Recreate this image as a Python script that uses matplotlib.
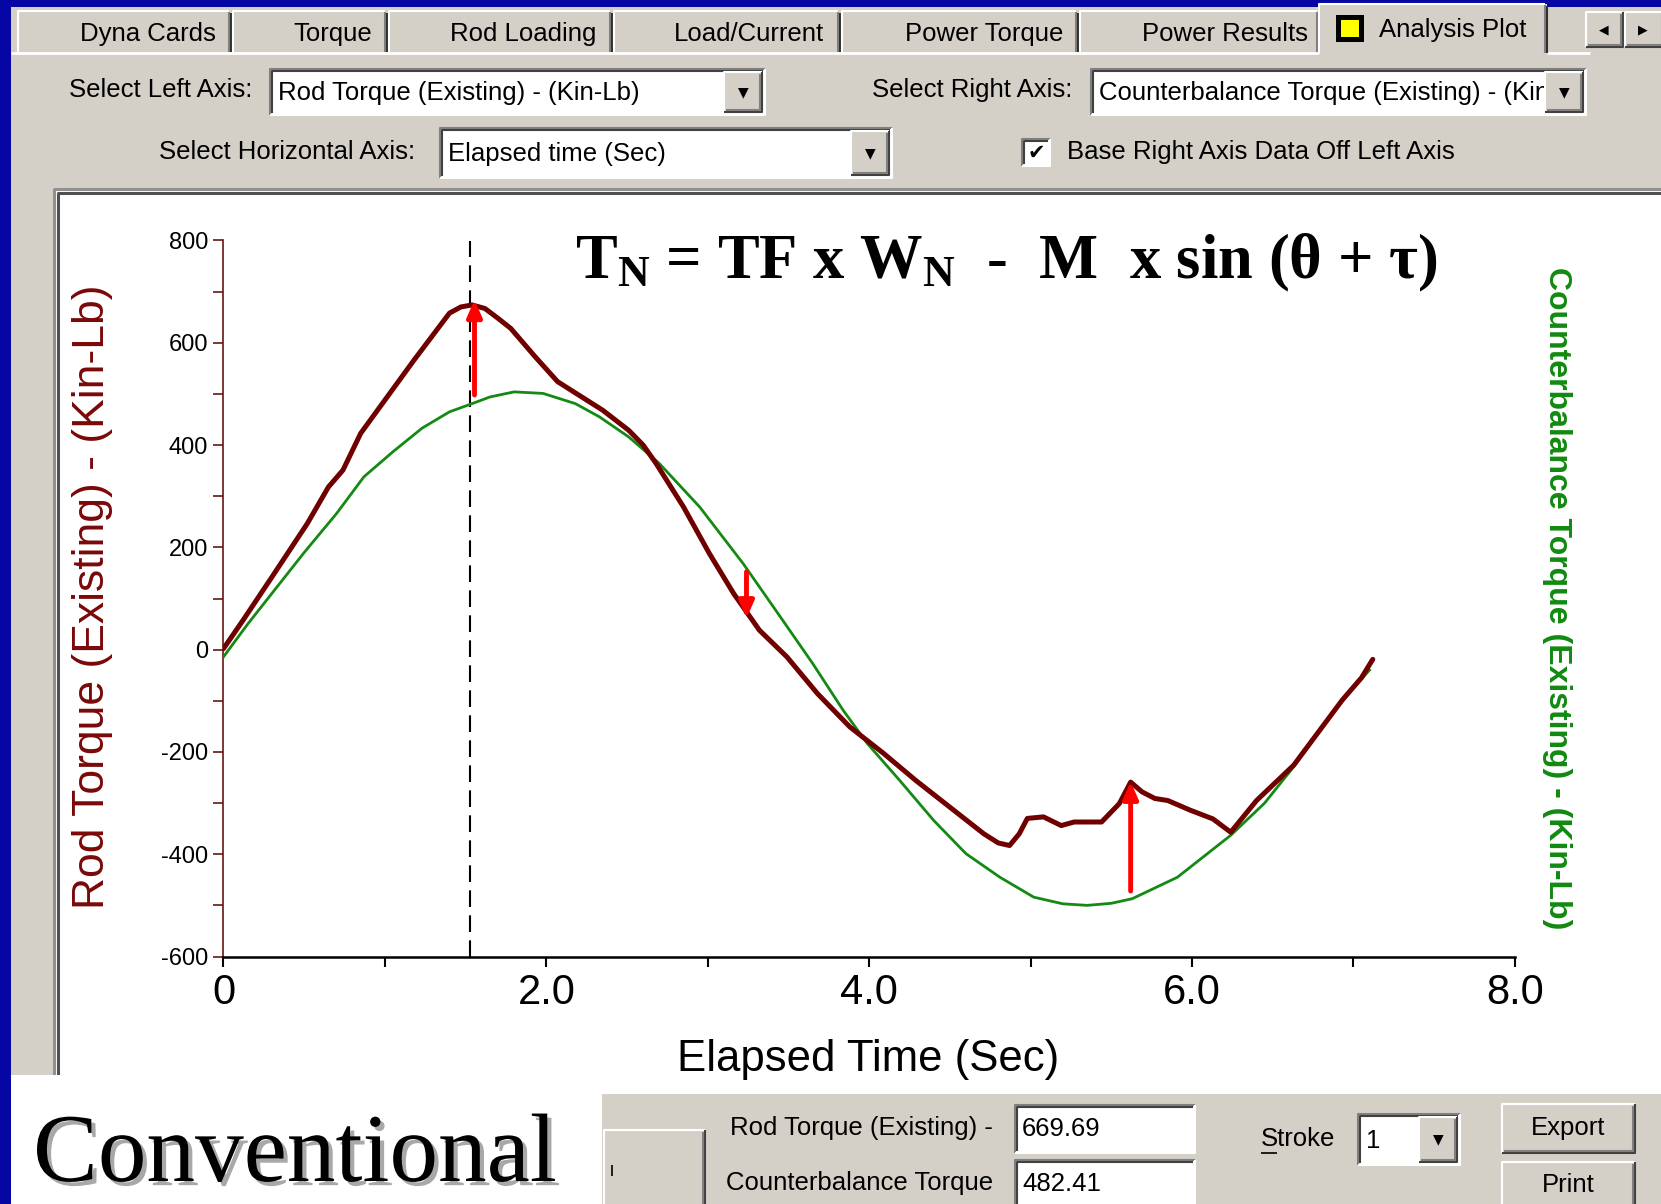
import matplotlib
matplotlib.use('Agg')
import matplotlib.pyplot as plt
from matplotlib.patches import Rectangle
from matplotlib.transforms import Bbox, TransformedBbox
import matplotlib.patheffects as pe

plt.rcParams['font.family'] = ['Liberation Sans', 'DejaVu Sans']
plt.rcParams['axes.unicode_minus'] = False
plt.rcParams['mathtext.fontset'] = 'custom'
plt.rcParams['mathtext.rm'] = 'Liberation Serif'
plt.rcParams['mathtext.bf'] = 'Liberation Serif:bold'
plt.rcParams['mathtext.it'] = 'Liberation Serif:italic'

# ---------------- data ----------------
time_rod = [0.00, 0.12, 0.30, 0.52, 0.65, 0.74, 0.85, 1.03, 1.18, 1.29, 1.40, 1.47, 1.54,
            1.62, 1.70, 1.78, 1.93, 2.07, 2.20, 2.35, 2.51, 2.60, 2.68, 2.85, 3.01, 3.16,
            3.32, 3.49, 3.68, 3.88, 4.09, 4.29, 4.50, 4.71, 4.80, 4.87, 4.93, 4.98, 5.08,
            5.19, 5.27, 5.44, 5.55, 5.62, 5.69, 5.77, 5.85, 5.99, 6.13, 6.24, 6.40, 6.63,
            6.93, 7.05, 7.12]
rod_torque = [2, 57, 142, 247, 318, 351, 423, 501, 566, 612, 658, 670, 674,
              667, 648, 628, 573, 524, 498, 468, 429, 400, 364, 279, 188, 110,
              38, -14, -86, -151, -203, -256, -308, -360, -378, -383, -360, -330, -327,
              -344, -337, -337, -301, -259, -278, -291, -295, -314, -331, -357, -295, -226,
              -99, -55, -19]

time_cb = [0.00, 0.15, 0.30, 0.50, 0.70, 0.87, 1.05, 1.23, 1.40, 1.54, 1.65, 1.80, 1.98,
           2.18, 2.33, 2.51, 2.70, 2.95, 3.22, 3.45, 3.65, 3.84, 3.99, 4.19, 4.40, 4.60,
           4.81, 5.02, 5.20, 5.35, 5.50, 5.63, 5.91, 6.24, 6.45, 6.63, 6.93, 7.10]
cb_torque = [-14, 50, 110, 190, 266, 338, 387, 433, 465, 481, 494, 504, 501,
             481, 455, 416, 364, 279, 168, 64, -27, -119, -184, -256, -334, -399,
             -445, -484, -497, -500, -496, -487, -445, -363, -300, -229, -99, -40]

peak_time = 1.53
arrow_time = [1.555, 3.24, 5.62]
arrow_start = [498, 152, -472]
arrow_end = [684, 61, -258]

x_major = [0, 2, 4, 6, 8]
x_labels = ['0', '2.0', '4.0', '6.0', '8.0']
x_minor = [1, 3, 5, 7]
y_major = [-600, -400, -200, 0, 200, 400, 600, 800]
y_labels = ['-600', '-400', '-200', '0', '200', '400', '600', '800']
y_minor = [-500, -300, -100, 100, 300, 500, 700]

tab_names = ['Dyna Cards', 'Torque', 'Rod Loading', 'Load/Current', 'Power Torque',
             'Power Results', 'Analysis Plot']
left_axis_choice = 'Rod Torque (Existing) - (Kin-Lb)'
right_axis_choice = 'Counterbalance Torque (Existing) - (Kin-Lb)'
horiz_axis_choice = 'Elapsed time (Sec)'
readout_labels = ['Rod Torque (Existing) -', 'Counterbalance Torque']
readout_values = ['669.69', '482.41']
stroke_value = '1'

# ---------------- figure / UI ----------------
W, H = 1661, 1204
GRAY = '#D4D0C8'
BLUE = '#0606A4'
UI = 18.5

fig = plt.figure(figsize=(W / 100, H / 100), dpi=100, facecolor=BLUE)
bg = fig.add_axes([0, 0, 1, 1])
bg.set_xlim(0, W)
bg.set_ylim(H, 0)
bg.axis('off')


def rect(x0, y0, x1, y1, fc, z=1):
    r = Rectangle((x0, y0), x1 - x0, y1 - y0, facecolor=fc, edgecolor='none', zorder=z)
    bg.add_patch(r)
    return r


def line(xs, ys, c, lw, z=2):
    bg.plot(xs, ys, color=c, lw=lw, zorder=z, solid_capstyle='butt')


def sunken(x0, y0, x1, y1, fc='white', z=2):
    r = rect(x0, y0, x1, y1, fc, z)
    line([x0, x0, x1], [y1, y0, y0], '#808080', 1.5, z + 0.1)
    line([x0 + 2, x0 + 2, x1 - 2], [y1 - 2, y0 + 2, y0 + 2], '#404040', 1.5, z + 0.1)
    line([x0, x1, x1], [y1, y1, y0], '#FFFFFF', 1.5, z + 0.1)
    return r


def raised(x0, y0, x1, y1, z=3):
    rect(x0, y0, x1, y1, GRAY, z)
    line([x0, x0, x1], [y1, y0, y0], '#FFFFFF', 1.5, z + 0.1)
    line([x0, x1, x1], [y1, y1, y0], '#404040', 1.5, z + 0.1)
    line([x0 + 2, x1 - 2, x1 - 2], [y1 - 2, y1 - 2, y0 + 2], '#808080', 1.5, z + 0.1)


def txt(x, y, s, size=UI, ha='left', va='center', z=5, **kw):
    return bg.text(x, y, s, fontsize=size, ha=ha, va=va, zorder=z, **kw)


def combo(x0, y0, x1, y1, value, bw=38):
    sunken(x0, y0, x1, y1)
    t = txt(x0 + 8, (y0 + y1) / 2 + 1, value)
    t.set_clip_path(None)
    t.set_clip_on(True)
    t.set_clip_box(TransformedBbox(Bbox([[x0 + 2, y0 + 2], [x1 - bw - 4, y1 - 2]]),
                                   bg.transData))
    raised(x1 - bw - 3, y0 + 3, x1 - 3, y1 - 3, z=4)
    txt(x1 - bw / 2 - 3, (y0 + y1) / 2, '\u25BC', size=10, ha='center', z=6,
        family='DejaVu Sans')


# gray window body
rect(11, 7, W, H, GRAY, z=0.5)

# tabs
tab_edges = [(18, 231), (233, 387), (389, 612), (614, 840), (842, 1078), (1080, 1319)]
tab_centers = [148, 333, 523, 749, 984, 1225]
for (x0, x1), xc, name in zip(tab_edges, tab_centers, tab_names[:-1]):
    rect(x0, 11, x1, 53, GRAY, z=1)
    line([x0, x0, x1 - 2], [53, 11, 11], '#FFFFFF', 1.5, z=1.2)
    line([x1 - 2, x1 - 2], [12, 52], '#808080', 1.5, z=1.2)
    line([x1, x1], [13, 52], '#303030', 1.5, z=1.2)
    txt(xc, 34, name, ha='center')
# panel top edge
line([11, 1319], [53, 53], '#FFFFFF', 2, z=1.3)
line([1547, 1590], [53, 53], '#FFFFFF', 2, z=1.3)
# selected tab
rect(1319, 4, 1547, 56, GRAY, z=1.5)
line([1319, 1319, 1545], [54, 4, 4], '#FFFFFF', 1.5, z=1.6)
line([1545, 1545], [5, 53], '#808080', 1.5, z=1.6)
line([1547, 1547], [6, 53], '#303030', 1.5, z=1.6)
rect(1336, 15, 1364, 42, '#000000', z=1.7)
rect(1341, 20, 1359, 37, '#FFFF00', z=1.8)
txt(1453, 30, tab_names[-1], ha='center')
# scroll buttons
raised(1586, 12, 1623, 47)
raised(1625, 12, 1664, 47)
txt(1604, 30, '\u25C0', size=9, ha='center', family='DejaVu Sans')
txt(1643, 30, '\u25B6', size=9, ha='center', family='DejaVu Sans')

# axis selectors
txt(252, 90, 'Select Left Axis:', ha='right')
combo(270, 69, 765, 115, left_axis_choice)
txt(1072, 90, 'Select Right Axis:', ha='right')
combo(1091, 69, 1586, 115, right_axis_choice)
txt(415, 152, 'Select Horizontal Axis:', ha='right')
combo(440, 128, 892, 178, horiz_axis_choice)
sunken(1022, 139, 1050, 166)
txt(1036, 153, '\u2714', size=15, ha='center', family='DejaVu Sans')
txt(1067, 152, 'Base Right Axis Data Off Left Axis')

# chart panel
rect(53, 188, W, 1092, '#FFFFFF', z=1)
line([54, 54, W], [1092, 189, 189], '#909090', 2.2, z=1.2)
line([57.5, 57.5, W], [1092, 192.5, 192.5], '#505050', 2.2, z=1.2)

# bottom panel
rect(602, 1092, W, H, GRAY, z=2)
line([602, W], [1093, 1093], '#FFFFFF', 1.5, z=2.1)
raised(604, 1130, 705, 1215)
line([612, 612], [1165, 1176], '#000000', 1.2, z=6)
txt(993, 1128, readout_labels[0], ha='right')
sunken(1015, 1105, 1195, 1153)
txt(1022, 1129, readout_values[0], z=6)
txt(993, 1183, readout_labels[1], ha='right')
sunken(1015, 1160, 1195, 1210)
txt(1022, 1184, readout_values[1], z=6)
txt(1261, 1139, 'Stroke')
line([1261, 1277], [1153, 1153], '#000000', 1.2, z=6)
combo(1358, 1114, 1460, 1165, stroke_value)
raised(1502, 1104, 1635, 1153)
txt(1568, 1128, 'Export', ha='center')
raised(1502, 1162, 1635, 1215)
txt(1568, 1185, 'Print', ha='center')

# "Conventional" label box
rect(11, 1075, 602, H, '#FFFFFF', z=10)
txt(33, 1181, 'Conventional', size=70, va='baseline', z=12, color='#000000',
    family='Liberation Serif',
    path_effects=[pe.SimplePatchShadow(offset=(3, -3), shadow_rgbFace='#A8A8A8',
                                       alpha=1.0), pe.Normal()])

# ---------------- chart ----------------
x0p, x1p, y0p, y1p = 223.5, 1514.8, 240.5, 956.5
ax = fig.add_axes([x0p / W, 1 - y1p / H, (x1p - x0p) / W, (y1p - y0p) / H])
ax.patch.set_visible(False)
ax.plot(time_cb, cb_torque, color='#148A14', lw=2.0, zorder=3)
ax.plot(time_rod, rod_torque, color='#700000', lw=3.6, zorder=4,
        solid_joinstyle='round', solid_capstyle='round')
ax.axvline(peak_time, color='black', lw=1.5, ls=(0, (8, 4)), zorder=2)
for t, a, b in zip(arrow_time, arrow_start, arrow_end):
    ax.annotate('', xy=(t, b), xytext=(t, a),
                arrowprops=dict(arrowstyle='-|>,head_length=0.5,head_width=0.22',
                                color='#FF0000', lw=3.5, shrinkA=0, shrinkB=0,
                                mutation_scale=20), zorder=6)
ax.set_xlim(0, 8)
ax.set_ylim(-600, 800)
ax.spines['top'].set_visible(False)
ax.spines['right'].set_visible(False)
ax.spines['left'].set_color('#6B1515')
ax.spines['left'].set_linewidth(1.2)
ax.spines['bottom'].set_color('#000000')
ax.spines['bottom'].set_linewidth(1.8)
ax.set_xticks(x_major)
ax.set_xticklabels(x_labels, fontsize=30)
ax.set_xticks(x_minor, minor=True)
ax.set_yticks(y_major)
ax.set_yticklabels(y_labels, fontsize=17)
ax.set_yticks(y_minor, minor=True)
ax.tick_params(axis='x', which='both', length=7, width=1.5, color='black', pad=5)
ax.tick_params(axis='y', which='both', length=7, width=1.2, color='#6B1515',
               labelcolor='black', pad=4)

ax.text(868.6, 1059, 'Elapsed Time (Sec)', transform=bg.transData, fontsize=31.5,
        ha='center', va='center')
ax.text(93, 597, 'Rod Torque (Existing) - (Kin-Lb)', transform=bg.transData,
        fontsize=32, rotation=90, ha='center', va='center', color='#7A0808')
ax.text(1557, 598, 'Counterbalance Torque (Existing) - (Kin-Lb)', transform=bg.transData,
        fontsize=23, fontweight='bold', rotation=270, ha='center', va='center',
        color='#118A11')
formula = 'T$_\\mathregular{N}$ = TF x W$_\\mathregular{N}$  -  M  x sin (\u03b8 + \u03c4)'
ax.text(575, 278, formula, transform=bg.transData, fontsize=45, fontweight='bold',
        family='Liberation Serif', ha='left', va='baseline', color='black')

fig.savefig('out.png', dpi=100, facecolor=BLUE)
